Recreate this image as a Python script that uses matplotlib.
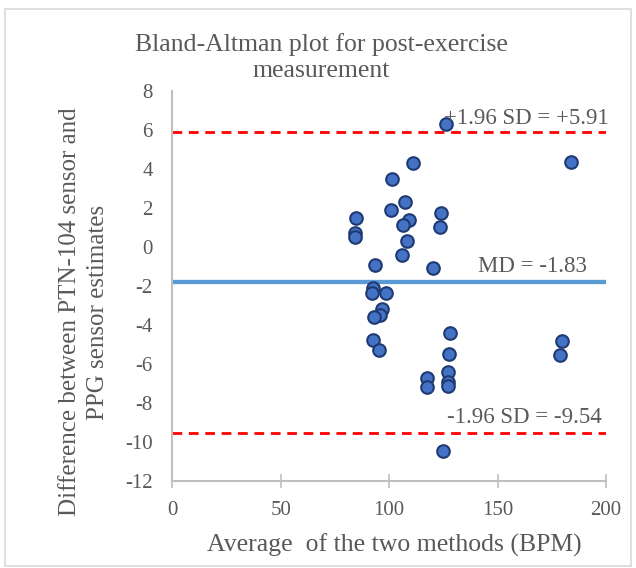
import matplotlib
matplotlib.use("Agg")
import matplotlib.pyplot as plt
from matplotlib.patches import Rectangle

plt.rcParams['font.family'] = ['Liberation Serif', 'DejaVu Serif']
plt.rcParams['axes.unicode_minus'] = False

avg_bpm = [126.2, 110.8, 101.4, 107.3, 100.8, 84.8, 109.1, 106.5, 123.9, 123.3,
           84.3, 84.2, 108.3, 106.0, 93.4, 120.3, 92.6, 92.0, 98.7, 96.5,
           95.7, 93.0, 92.3, 95.4, 128.0, 127.6, 127.2, 127.2, 127.2, 117.6,
           117.6, 124.9, 183.9, 179.6, 178.8]
diff_bpm = [6.29, 4.32, 3.48, 2.28, 1.89, 1.49, 1.38, 1.12, 1.72, 1.00,
            0.69, 0.49, 0.30, -0.42, -0.93, -1.10, -2.10, -2.35, -2.39, -3.21,
            -3.50, -3.59, -4.79, -5.31, -4.44, -5.51, -6.44, -6.92, -7.15, -6.75,
            -7.21, -10.47, 4.34, -4.84, -5.55]

mean_diff = -1.83
upper_loa = 5.91
lower_loa = -9.54
x_ticks = [0, 50, 100, 150, 200]
y_ticks = [8, 6, 4, 2, 0, -2, -4, -6, -8, -10, -12]

txt = '#595959'
fig = plt.figure(figsize=(6.36, 5.68), dpi=100)
ax = fig.add_axes([0.271, 0.154, 0.682, 0.686])

dash = (0, (3.5, 2.4))
ax.plot([0, 200], [upper_loa, upper_loa], color='#FF0000', lw=2.0, ls=dash, zorder=2)
ax.plot([0, 200], [lower_loa, lower_loa], color='#FF0000', lw=2.0, ls=dash, zorder=2)
ax.plot([0, 200], [mean_diff, mean_diff], color='#5B9BD5', lw=3.1, zorder=2)

ax.scatter(avg_bpm, diff_bpm, s=82, facecolor='#4472C4', edgecolor='#1F3A73',
           linewidths=1.5, zorder=3)

ax.set_xlim(0, 200)
ax.set_ylim(-12, 8)
ax.set_xticks(x_ticks)
ax.set_yticks(y_ticks)
ax.tick_params(axis='x', direction='inout', length=9.5, width=1.2, color='#BFBFBF',
               labelsize=15, labelcolor=txt, pad=10)
ax.tick_params(axis='y', length=0, labelsize=15, labelcolor=txt, pad=14)
for s in ['top', 'right']:
    ax.spines[s].set_visible(False)
for s in ['left', 'bottom']:
    ax.spines[s].set_color('#BFBFBF')
    ax.spines[s].set_linewidth(1.5)

ax.text(125.3, 6.29, '+1.96 SD = +5.91', fontsize=16.5, color=txt, va='baseline', ha='left')
ax.text(140.8, -1.28, 'MD = -1.83', fontsize=16.5, color=txt, va='baseline', ha='left')
ax.text(126.6, -9.06, '-1.96 SD = -9.54', fontsize=16.5, color=txt, va='baseline', ha='left')

fig.text(394 / 636, 1 - 552 / 568, 'Average  of the two methods (BPM)', fontsize=18.5,
         color=txt, ha='center', va='baseline')
fig.text(84 / 636, 1 - 312 / 568, 'Difference between PTN-104 sensor and\nPPG sensor estimates',
         fontsize=18, color=txt, ha='center', va='center', rotation=90,
         multialignment='center', linespacing=1.35)
fig.text(321 / 636, 1 - 57.5 / 568, 'Bland-Altman plot for post-exercise\nmeasurement',
         ha='center', va='center', fontsize=18.5, color=txt, linespacing=1.25)

fig.patches.append(Rectangle((0.008, 0.004), 0.984, 0.981, transform=fig.transFigure,
                             fill=False, edgecolor='#D9D9D9', lw=1.2))

fig.savefig('out.png', dpi=100)
